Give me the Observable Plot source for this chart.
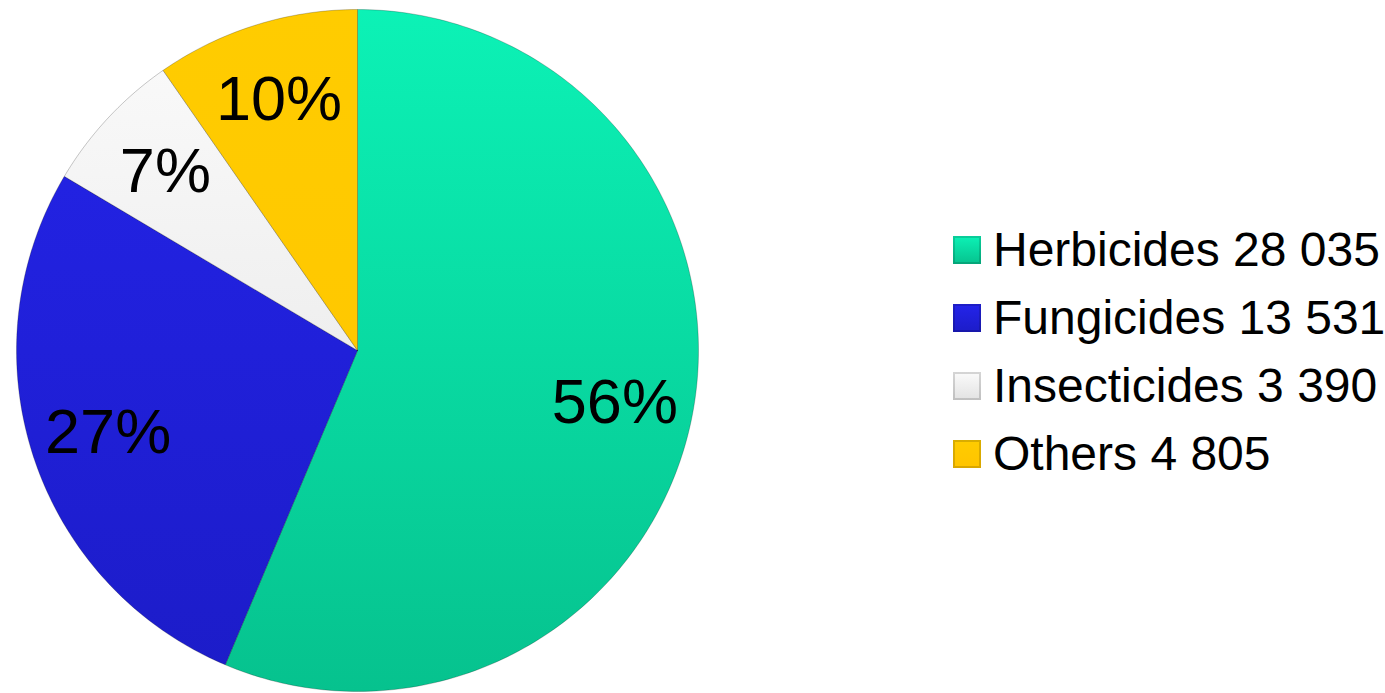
<!DOCTYPE html>
<html>
<head>
<meta charset="utf-8">
<script src="https://cdn.jsdelivr.net/npm/d3@7"></script>
<script src="https://cdn.jsdelivr.net/npm/@observablehq/plot@0.6"></script>
<style>
  html, body { margin: 0; padding: 0; background: #ffffff; }
  #wrap { position: relative; width: 1385px; height: 693px; overflow: hidden; font-family: "Liberation Sans", Arial, sans-serif; }
  #chart { position: absolute; left: 0; top: 0; }
  #legend { position: absolute; left: 953px; top: 216px; }
  .row { display: flex; align-items: center; height: 68px; }
  .sw { width: 28px; height: 28px; margin-right: 12px; box-sizing: border-box; box-shadow: inset 0 0 0 2px rgba(0,0,0,0.15); }
  .lbl { font-size: 48px; line-height: 68px; color: #000; white-space: nowrap; }
</style>
</head>
<body>
<div id="wrap">
  <div id="chart"></div>
  <div id="legend"></div>
</div>
<script>
const categories = ["Herbicides", "Fungicides", "Insecticides", "Others"];
const values = [28035, 13531, 3390, 4805];
const percentLabels = ["56%", "27%", "7%", "10%"];
const legendLabels = ["Herbicides 28 035", "Fungicides 13 531", "Insecticides 3 390", "Others 4 805"];
const colors = ["#0ad9a2", "#2020e0", "#efefef", "#ffcb00"];
const gradTop = ["#0cf2b6", "#2424ea", "#fbfbfb", "#ffcc00"];
const gradBottom = ["#06c28e", "#1c1cc8", "#e2e2e2", "#ffc400"];

const arcs = d3.pie().sort(null).value(d => d)(values);
const pts = [];
const labels = [];
arcs.forEach((a, i) => {
  const name = categories[i];
  pts.push({name, x: 0, y: 0});
  const n = Math.max(4, Math.ceil((a.endAngle - a.startAngle) * 180 / Math.PI));
  for (let k = 0; k <= n; k++) {
    const t = a.startAngle + (a.endAngle - a.startAngle) * k / n;
    pts.push({name, x: Math.sin(t), y: Math.cos(t)});
  }
  pts.push({name, x: 0, y: 0});
  const m = (a.startAngle + a.endAngle) / 2;
  labels.push({name, text: percentLabels[i], x: 0.77 * Math.sin(m), y: 0.77 * Math.cos(m)});
});

const gradIds = categories.map((c, i) => "grad" + i);

const chart = Plot.plot({
  width: 1385,
  height: 693,
  margin: 0,
  style: {background: "transparent", fontFamily: "'Liberation Sans', Arial, sans-serif"},
  x: {domain: [-1, 1], range: [16, 698], axis: null},
  y: {domain: [-1, 1], range: [691, 9], axis: null},
  color: {domain: categories, range: gradIds.map(id => `url(#${id})`)},
  marks: [
    Plot.line(pts, {x: "x", y: "y", z: "name", fill: "name", stroke: "rgba(0,0,0,0.22)", strokeWidth: 1, curve: "linear"}),
    Plot.text(labels, {x: "x", y: "y", text: "text", fontSize: 63, fill: "#000"})
  ]
});

// gradient definitions for the slice fills
const svgNS = "http://www.w3.org/2000/svg";
const defs = document.createElementNS(svgNS, "defs");
gradIds.forEach((id, i) => {
  const g = document.createElementNS(svgNS, "linearGradient");
  g.setAttribute("id", id);
  g.setAttribute("gradientUnits", "userSpaceOnUse");
  g.setAttribute("x1", "0"); g.setAttribute("x2", "0");
  g.setAttribute("y1", "9"); g.setAttribute("y2", "691");
  [[0, gradTop[i]], [1, gradBottom[i]]].forEach(([o, c]) => {
    const s = document.createElementNS(svgNS, "stop");
    s.setAttribute("offset", o);
    s.setAttribute("stop-color", c);
    g.appendChild(s);
  });
  defs.appendChild(g);
});
chart.insertBefore(defs, chart.firstChild);
document.getElementById("chart").appendChild(chart);

const legend = document.getElementById("legend");
legendLabels.forEach((t, i) => {
  const row = document.createElement("div");
  row.className = "row";
  const sw = document.createElement("div");
  sw.className = "sw";
  sw.style.background = `linear-gradient(${gradTop[i]}, ${gradBottom[i]})`;
  const lb = document.createElement("div");
  lb.className = "lbl";
  lb.textContent = t;
  row.appendChild(sw);
  row.appendChild(lb);
  legend.appendChild(row);
});
</script>
</body>
</html>
